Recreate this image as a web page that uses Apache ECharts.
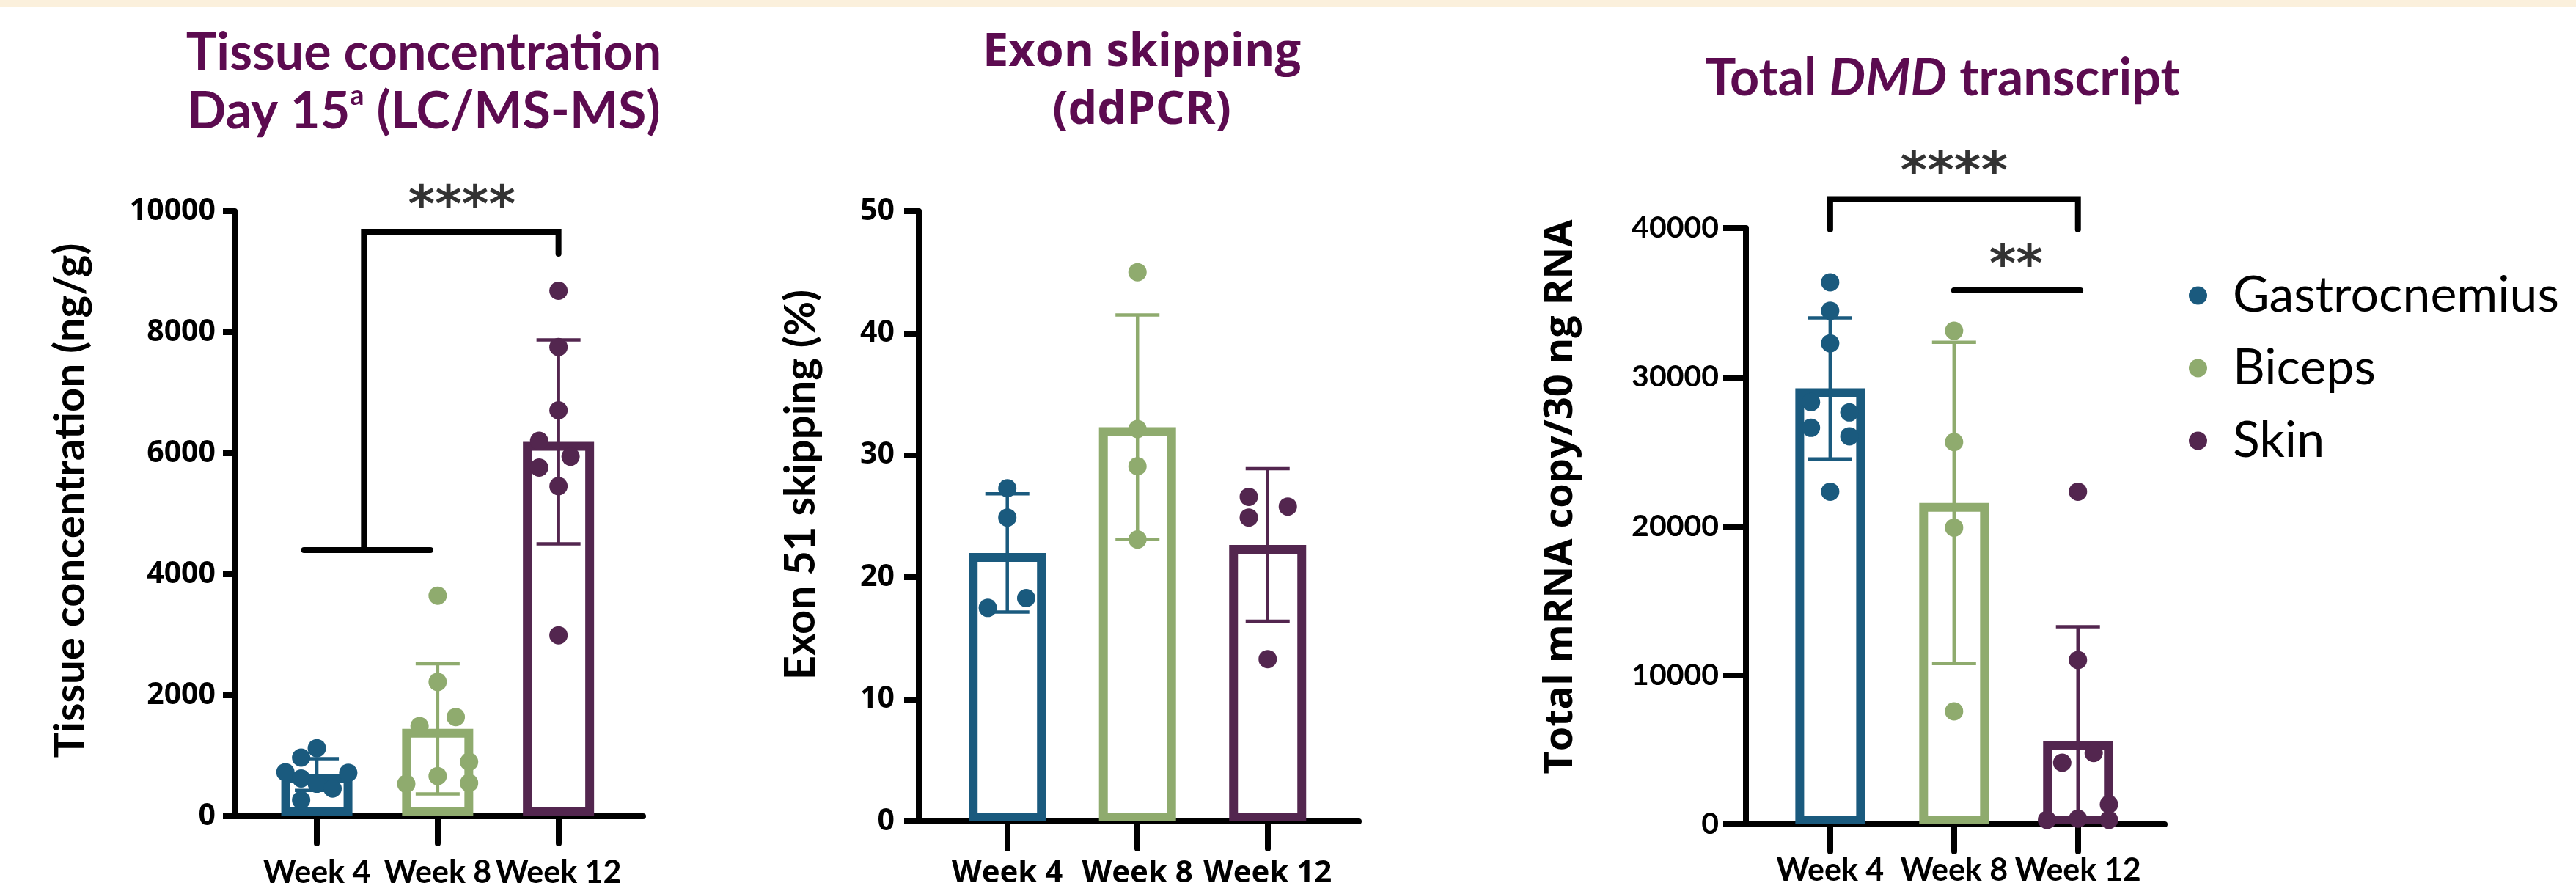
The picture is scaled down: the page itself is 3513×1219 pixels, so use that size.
<!DOCTYPE html>
<html>
<head>
<meta charset="utf-8">
<script src="https://cdn.jsdelivr.net/npm/echarts@6/dist/echarts.min.js"></script>
<style>
  html, body { margin: 0; padding: 0; background: #fff; }
  #main { width: 3513px; height: 1219px; }
</style>
</head>
<body>
<div id="main"></div>
<script>
const weeks = ['Week 4', 'Week 8', 'Week 12'];
const tissues = ['Gastrocnemius', 'Biceps', 'Skin'];

// Tissue concentration, Day 15 (ng/g)
const concMean = [690, 1445, 6189];
const concSD = [263, 1075, 1685];
const concPoints = [
  [1125, 970, 728, 718, 625, 538, 458, 268],
  [3646, 2220, 1640, 1490, 900, 665, 535, 550],
  [8685, 7756, 6709, 6205, 5945, 5764, 5457, 2992]
];
const concJitter = [
  [0, -0.13, -0.26, 0.26, -0.13, 0, 0.13, -0.13],
  [0, 0, 0.15, -0.15, 0.26, 0, -0.26, 0.26],
  [0, 0, 0, -0.16, 0.1, -0.16, 0, 0]
];
const concTicks = [0, 2000, 4000, 6000, 8000, 10000];
const concBrackets = [
  [[-0.106, 4400], [0.94, 4400]],
  [[0.39, 4400], [0.39, 9661], [2, 9661], [2, 9297]]
];
const concStars = [[1.2, 10218, '****']];

// Exon 51 skipping (%)
const exonMean = [22.0, 32.3, 22.65];
const exonSD = [4.85, 9.2, 6.25];
const exonPoints = [
  [27.3, 24.9, 17.5, 18.3],
  [45.0, 32.15, 29.1, 23.1],
  [26.6, 24.9, 25.8, 13.3]
];
const exonJitter = [
  [0, 0, -0.15, 0.145],
  [0, 0, 0, 0],
  [-0.145, -0.145, 0.155, 0]
];
const exonTicks = [0, 10, 20, 30, 40, 50];

// Total DMD transcript (copy / 30 ng RNA)
const dmdMean = [29249, 21560, 5562];
const dmdSD = [4730, 10775, 7700];
const dmdPoints = [
  [36364, 34450, 32268, 28325, 27636, 26603, 26029, 22316],
  [33110, 25646, 19904, 7579],
  [22316, 11024, 4785, 4134, 1340, 300, 380, 300]
];
const dmdJitter = [
  [0, 0, 0, -0.155, 0.155, -0.155, 0.155, 0],
  [0, 0, 0, 0],
  [0, 0, 0.127, -0.127, 0.25, -0.25, 0, 0.25]
];
const dmdTicks = [0, 10000, 20000, 30000, 40000];
const dmdBrackets = [
  [[0, 39900], [0, 41943], [2, 41943], [2, 39900]],
  [[1, 35818], [2.02, 35818]]
];
const dmdStars = [[1, 44280, '****'], [1.5, 38032, '**']];

const groupColors = ['#1a5a7e', '#8fab6e', '#53264f'];
const titleColor = '#5c0b50';

const panels = [
  {
    mean: concMean, sd: concSD, points: concPoints, jitter: concJitter, ticks: concTicks,
    brackets: concBrackets, stars: concStars, yName: 'Tissue concentration (ng/g)',
    grid: { left: 320, top: 288, width: 557, height: 825 }, barWidth: 97,
    yTickLen: 16, yLabelMargin: 26, yLabelFont: 'Open Sans',
    xLabelFont: 'Lato', xLabelSize: 43, xLabelMargin: 56,
    yNameFont: 'Lato', yNameSize: 58, yNameGap: 195, yNameShift: 18
  },
  {
    mean: exonMean, sd: exonSD, points: exonPoints, jitter: exonJitter, ticks: exonTicks,
    brackets: [], stars: [], yName: 'Exon 51 skipping (%)',
    grid: { left: 1253, top: 288, width: 600, height: 832 }, barWidth: 105,
    yTickLen: 20, yLabelMargin: 33, yLabelFont: 'Open Sans',
    xLabelFont: 'Open Sans', xLabelSize: 42, xLabelMargin: 50,
    yNameFont: 'Lato', yNameSize: 58, yNameGap: 132, yNameShift: 43
  },
  {
    mean: dmdMean, sd: dmdSD, points: dmdPoints, jitter: dmdJitter, ticks: dmdTicks,
    brackets: dmdBrackets, stars: dmdStars, yName: 'Total mRNA copy/30 ng RNA',
    grid: { left: 2381, top: 311, width: 571, height: 813 }, barWidth: 95,
    yTickLen: 31, yLabelMargin: 37, yLabelFont: 'Lato',
    xLabelFont: 'Lato', xLabelSize: 43, xLabelMargin: 42,
    yNameFont: 'Open Sans', yNameSize: 54, yNameGap: 225, yNameShift: 40
  }
];

const grid = [], xAxis = [], yAxis = [], series = [];

panels.forEach(function (p, i) {
  grid.push(p.grid);
  xAxis.push({
    type: 'value', gridIndex: i, min: -0.68, max: 2.7,
    axisLine: { show: true, onZero: false, lineStyle: { color: '#000', width: 8, cap: 'round' } },
    axisTick: { show: true, customValues: [0, 1, 2], length: 37, lineStyle: { color: '#000', width: 8, cap: 'round' } },
    axisLabel: {
      customValues: [0, 1, 2], formatter: function (v) { return weeks[Math.round(v)]; },
      margin: p.xLabelMargin, color: '#000', fontFamily: p.xLabelFont, fontWeight: 'bold',
      fontSize: p.xLabelSize, lineHeight: p.xLabelSize
    },
    splitLine: { show: false }
  });
  yAxis.push({
    type: 'value', gridIndex: i,
    min: p.ticks[0], max: p.ticks[p.ticks.length - 1], interval: p.ticks[1] - p.ticks[0],
    axisLine: { show: true, onZero: false, lineStyle: { color: '#000', width: 8, cap: 'round' } },
    axisTick: { show: true, length: p.yTickLen, lineStyle: { color: '#000', width: 8 } },
    axisLabel: {
      margin: p.yLabelMargin, color: '#000', fontFamily: p.yLabelFont, fontWeight: 'bold', fontSize: 41,
      formatter: function (v) { return String(v); }
    },
    splitLine: { show: false },
    name: p.yName, nameLocation: 'middle', nameRotate: 90, nameGap: p.yNameGap,
    nameTextStyle: {
      color: '#000', fontFamily: p.yNameFont, fontWeight: 'bold', fontSize: p.yNameSize,
      lineHeight: p.yNameSize, padding: [0, 0, 0, p.yNameShift * 2]
    }
  });

  // hollow bars (mean)
  series.push({
    type: 'bar', xAxisIndex: i, yAxisIndex: i, barWidth: p.barWidth, silent: true, z: 1,
    data: p.mean.map(function (m, k) {
      return { value: [k, m], itemStyle: { color: '#fff', borderColor: groupColors[k], borderWidth: 12 } };
    })
  });

  // SD error bars
  series.push({
    type: 'custom', xAxisIndex: i, yAxisIndex: i, silent: true, z: 3,
    encode: { x: 0, y: 1 },
    data: p.mean.map(function (m, k) { return [k, m, p.sd[k]]; }),
    renderItem: function (params, api) {
      const k = api.value(0), m = api.value(1), s = api.value(2);
      const top = api.coord([k, m + s]);
      const bot = api.coord([k, Math.max(m - s, 0)]);
      const half = 30;
      const style = { stroke: groupColors[params.dataIndex], lineWidth: 4.5 };
      const kids = [
        { type: 'line', shape: { x1: top[0], y1: top[1], x2: bot[0], y2: bot[1] }, style: style },
        { type: 'line', shape: { x1: top[0] - half, y1: top[1], x2: top[0] + half, y2: top[1] }, style: style }
      ];
      if (m - s >= 0) {
        kids.push({ type: 'line', shape: { x1: bot[0] - half, y1: bot[1], x2: bot[0] + half, y2: bot[1] }, style: style });
      }
      return { type: 'group', children: kids };
    }
  });

  // individual animals
  p.points.forEach(function (vals, k) {
    series.push({
      type: 'scatter', name: tissues[k], xAxisIndex: i, yAxisIndex: i, silent: true, z: 4,
      symbolSize: 25, itemStyle: { color: groupColors[k], opacity: 1 },
      data: vals.map(function (v, j) { return [k + p.jitter[k][j], v]; })
    });
  });

  // significance brackets
  p.brackets.forEach(function (path) {
    series.push({
      type: 'line', xAxisIndex: i, yAxisIndex: i, data: path, symbol: 'none', clip: false,
      silent: true, z: 5, lineStyle: { color: '#000', width: 8, cap: 'round', join: 'miter' }
    });
  });
  if (p.stars.length) {
    series.push({
      type: 'scatter', xAxisIndex: i, yAxisIndex: i, clip: false, silent: true, z: 6,
      symbolSize: 1, itemStyle: { color: 'rgba(0,0,0,0)' },
      data: p.stars.map(function (s) { return { value: [s[0], s[1]], label: { formatter: s[2] } }; }),
      label: {
        show: true, position: 'inside', offset: [0, 14], color: '#000',
        fontFamily: 'DejaVu Sans', fontWeight: 'bold', fontSize: 70
      }
    });
  }
});

const chart = echarts.init(document.getElementById('main'));
chart.setOption({
  animation: false,
  backgroundColor: '#fff',
  grid: grid,
  xAxis: xAxis,
  yAxis: yAxis,
  series: series,
  legend: {
    data: tissues, orient: 'vertical', left: 2980, top: 364, selectedMode: false,
    icon: 'circle', itemWidth: 25, itemHeight: 25, itemGap: 31,
    textStyle: { color: '#000', fontFamily: 'Lato', fontSize: 68, lineHeight: 68, padding: [0, 0, 0, 30] }
  },
  graphic: [
    { type: 'rect', left: 0, top: 0, shape: { width: 3513, height: 9 }, style: { fill: '#fbf0dc' } },
    {
      type: 'text', x: 578, y: 32,
      style: {
        text: 'Tissue concentration\nDay 15{sup|a} (LC/MS-MS)', align: 'center', verticalAlign: 'top',
        fill: titleColor, fontFamily: 'Lato', fontWeight: 'bold', fontSize: 70, lineHeight: 80,
        rich: { sup: { fill: titleColor, fontFamily: 'Lato', fontWeight: 'bold', fontSize: 38, lineHeight: 56, verticalAlign: 'top' } }
      }
    },
    {
      type: 'text', x: 1557, y: 33,
      style: {
        text: 'Exon skipping\n(ddPCR)', align: 'center', verticalAlign: 'top',
        fill: titleColor, fontFamily: 'Open Sans', fontWeight: 'bold', fontSize: 63, lineHeight: 79
      }
    },
    {
      type: 'text', x: 2649, y: 67,
      style: {
        text: 'Total {i|DMD} transcript', align: 'center', verticalAlign: 'top',
        fill: titleColor, fontFamily: 'Lato', fontWeight: 'bold', fontSize: 70, lineHeight: 80,
        rich: { i: { fill: titleColor, fontFamily: 'Lato', fontWeight: 'bold', fontStyle: 'italic', fontSize: 70, lineHeight: 80 } }
      }
    }
  ]
});
</script>
</body>
</html>
